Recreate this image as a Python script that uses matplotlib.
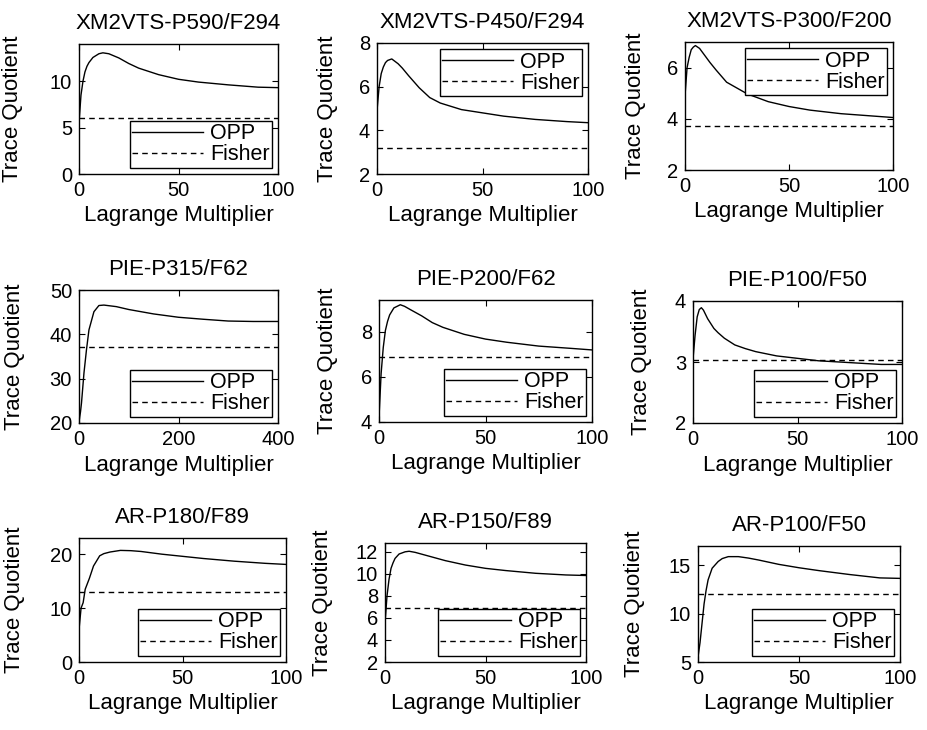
import matplotlib
matplotlib.use('Agg')
import matplotlib.pyplot as plt

plt.rcParams['font.family'] = ['Liberation Sans', 'DejaVu Sans']

W, H = 927, 730

# Lagrange multiplier samples (shared by the 0..100 panels)
lam = [0, 1, 2, 3, 4, 5, 7, 10, 12, 15, 20, 25, 30, 40, 50, 60, 75, 90, 100]
# PIE-P315/F62 runs to 400
lam_pie315 = [0, 3, 5, 10, 15, 20, 30, 40, 50, 75, 100, 150, 200, 250, 300, 350, 400]

titles = ['XM2VTS-P590/F294', 'XM2VTS-P450/F294', 'XM2VTS-P300/F200',
          'PIE-P315/F62', 'PIE-P200/F62', 'PIE-P100/F50',
          'AR-P180/F89', 'AR-P150/F89', 'AR-P100/F50']

opp_xm590 = [5.5, 8.5, 10.0, 11.0, 11.6, 12.0, 12.55, 12.95, 13.05, 12.95, 12.5, 11.9, 11.4, 10.7, 10.2, 9.9, 9.6, 9.35, 9.3]
opp_xm450 = [4.9, 6.0, 6.6, 6.9, 7.1, 7.2, 7.27, 7.05, 6.85, 6.5, 5.95, 5.5, 5.25, 4.95, 4.8, 4.65, 4.5, 4.4, 4.35]
opp_xm300 = [4.9, 6.0, 6.4, 6.7, 6.8, 6.86, 6.75, 6.42, 6.2, 5.9, 5.43, 5.2, 4.97, 4.67, 4.48, 4.34, 4.2, 4.11, 4.05]
opp_pie315 = [20.3, 22.5, 24.5, 31.3, 36.5, 41.0, 45.1, 46.5, 46.6, 46.25, 45.6, 44.6, 43.85, 43.4, 43.0, 42.9, 42.9]
opp_pie200 = [4.2, 6.15, 7.3, 8.05, 8.45, 8.74, 9.05, 9.19, 9.12, 8.96, 8.7, 8.4, 8.19, 7.88, 7.67, 7.53, 7.36, 7.26, 7.19]
opp_pie100 = [3.05, 3.44, 3.74, 3.86, 3.89, 3.85, 3.71, 3.55, 3.48, 3.39, 3.28, 3.22, 3.17, 3.1, 3.06, 3.02, 2.99, 2.96, 2.96]
opp_ar180 = [6.0, 10.0, 11.0, 13.5, 14.5, 15.5, 17.8, 19.7, 20.1, 20.4, 20.7, 20.65, 20.5, 20.0, 19.6, 19.2, 18.7, 18.3, 18.1]
opp_ar150 = [5.5, 8.0, 9.5, 10.5, 11.0, 11.4, 11.8, 12.0, 12.05, 11.95, 11.7, 11.45, 11.2, 10.8, 10.5, 10.3, 10.05, 9.9, 9.85]
opp_ar100 = [5.5, 7.0, 9.0, 11.0, 12.4, 13.5, 14.7, 15.4, 15.7, 15.9, 15.9, 15.75, 15.55, 15.1, 14.75, 14.45, 14.05, 13.7, 13.65]

fisher = [6.0, 3.2, 3.72, 37.2, 6.86, 3.03, 12.9, 6.9, 12.05]

xs = [lam, lam, lam, lam_pie315, lam, lam, lam, lam, lam]
opps = [opp_xm590, opp_xm450, opp_xm300, opp_pie315, opp_pie200, opp_pie100,
        opp_ar180, opp_ar150, opp_ar100]

xlims = [(0, 100)] * 3 + [(0, 400)] + [(0, 100)] * 5
xticks = [[0, 50, 100]] * 3 + [[0, 200, 400]] + [[0, 50, 100]] * 5
ylims = [(0, 14), (2, 8), (2, 7), (20, 50), (4, 9.4), (2, 4), (0, 23), (2, 12.8), (5, 17)]
yticks = [[0, 5, 10], [2, 4, 6, 8], [2, 4, 6], [20, 30, 40, 50], [4, 6, 8],
          [2, 3, 4], [0, 10, 20], [2, 4, 6, 8, 10, 12], [5, 10, 15]]
legend_loc = ['lower right', 'upper right', 'upper right', 'lower right', 'lower right',
              'lower right', 'lower right', 'lower right', 'lower right']

# axes boxes in pixels: left, top, right, bottom
boxes = [(79, 44, 278, 174), (377, 43, 588, 174), (685, 42, 893, 170),
         (79, 290, 278, 423), (379, 300, 592, 422), (693, 301, 902, 423),
         (79, 538, 286, 662), (385, 543, 586, 662), (698, 546, 900, 662)]
# right edge of the rotated y label, in axes fraction
ylab_x = [-0.281, -0.185, -0.1875, -0.271, -0.192, -0.196, -0.261, -0.259, -0.262]

fig = plt.figure(figsize=(W / 100, H / 100), dpi=100)

for i in range(9):
    l, t, r, b = boxes[i]
    ax = fig.add_axes([l / W, 1 - b / H, (r - l) / W, (b - t) / H])
    ax.plot(xs[i], opps[i], color='black', lw=1.0, label='OPP')
    ax.axhline(fisher[i], color='black', lw=1.0, dashes=(4, 3), label='Fisher')
    ax.set_xlim(*xlims[i])
    ax.set_ylim(*ylims[i])
    ax.set_xticks(xticks[i])
    ax.set_yticks(yticks[i])
    ax.tick_params(direction='in', top=True, right=True, length=4, width=0.8,
                   labelsize=14.5, pad=5)
    for s in ax.spines.values():
        s.set_linewidth(1.0)
    ax.set_title(titles[i], fontsize=16, pad=11)
    ax.set_xlabel('Lagrange Multiplier', fontsize=16, labelpad=4)
    ax.set_ylabel('Trace Quotient', fontsize=16)
    ax.yaxis.set_label_coords(ylab_x[i], 0.5)
    leg = ax.legend(loc=legend_loc[i], fontsize=15.5, frameon=True, fancybox=False,
                    framealpha=1, edgecolor='black', borderpad=0.1, labelspacing=0.0,
                    handlelength=3.3, handletextpad=0.3, borderaxespad=0.3)
    leg.get_frame().set_linewidth(1.0)

fig.savefig('out.png', dpi=100, facecolor='white')
